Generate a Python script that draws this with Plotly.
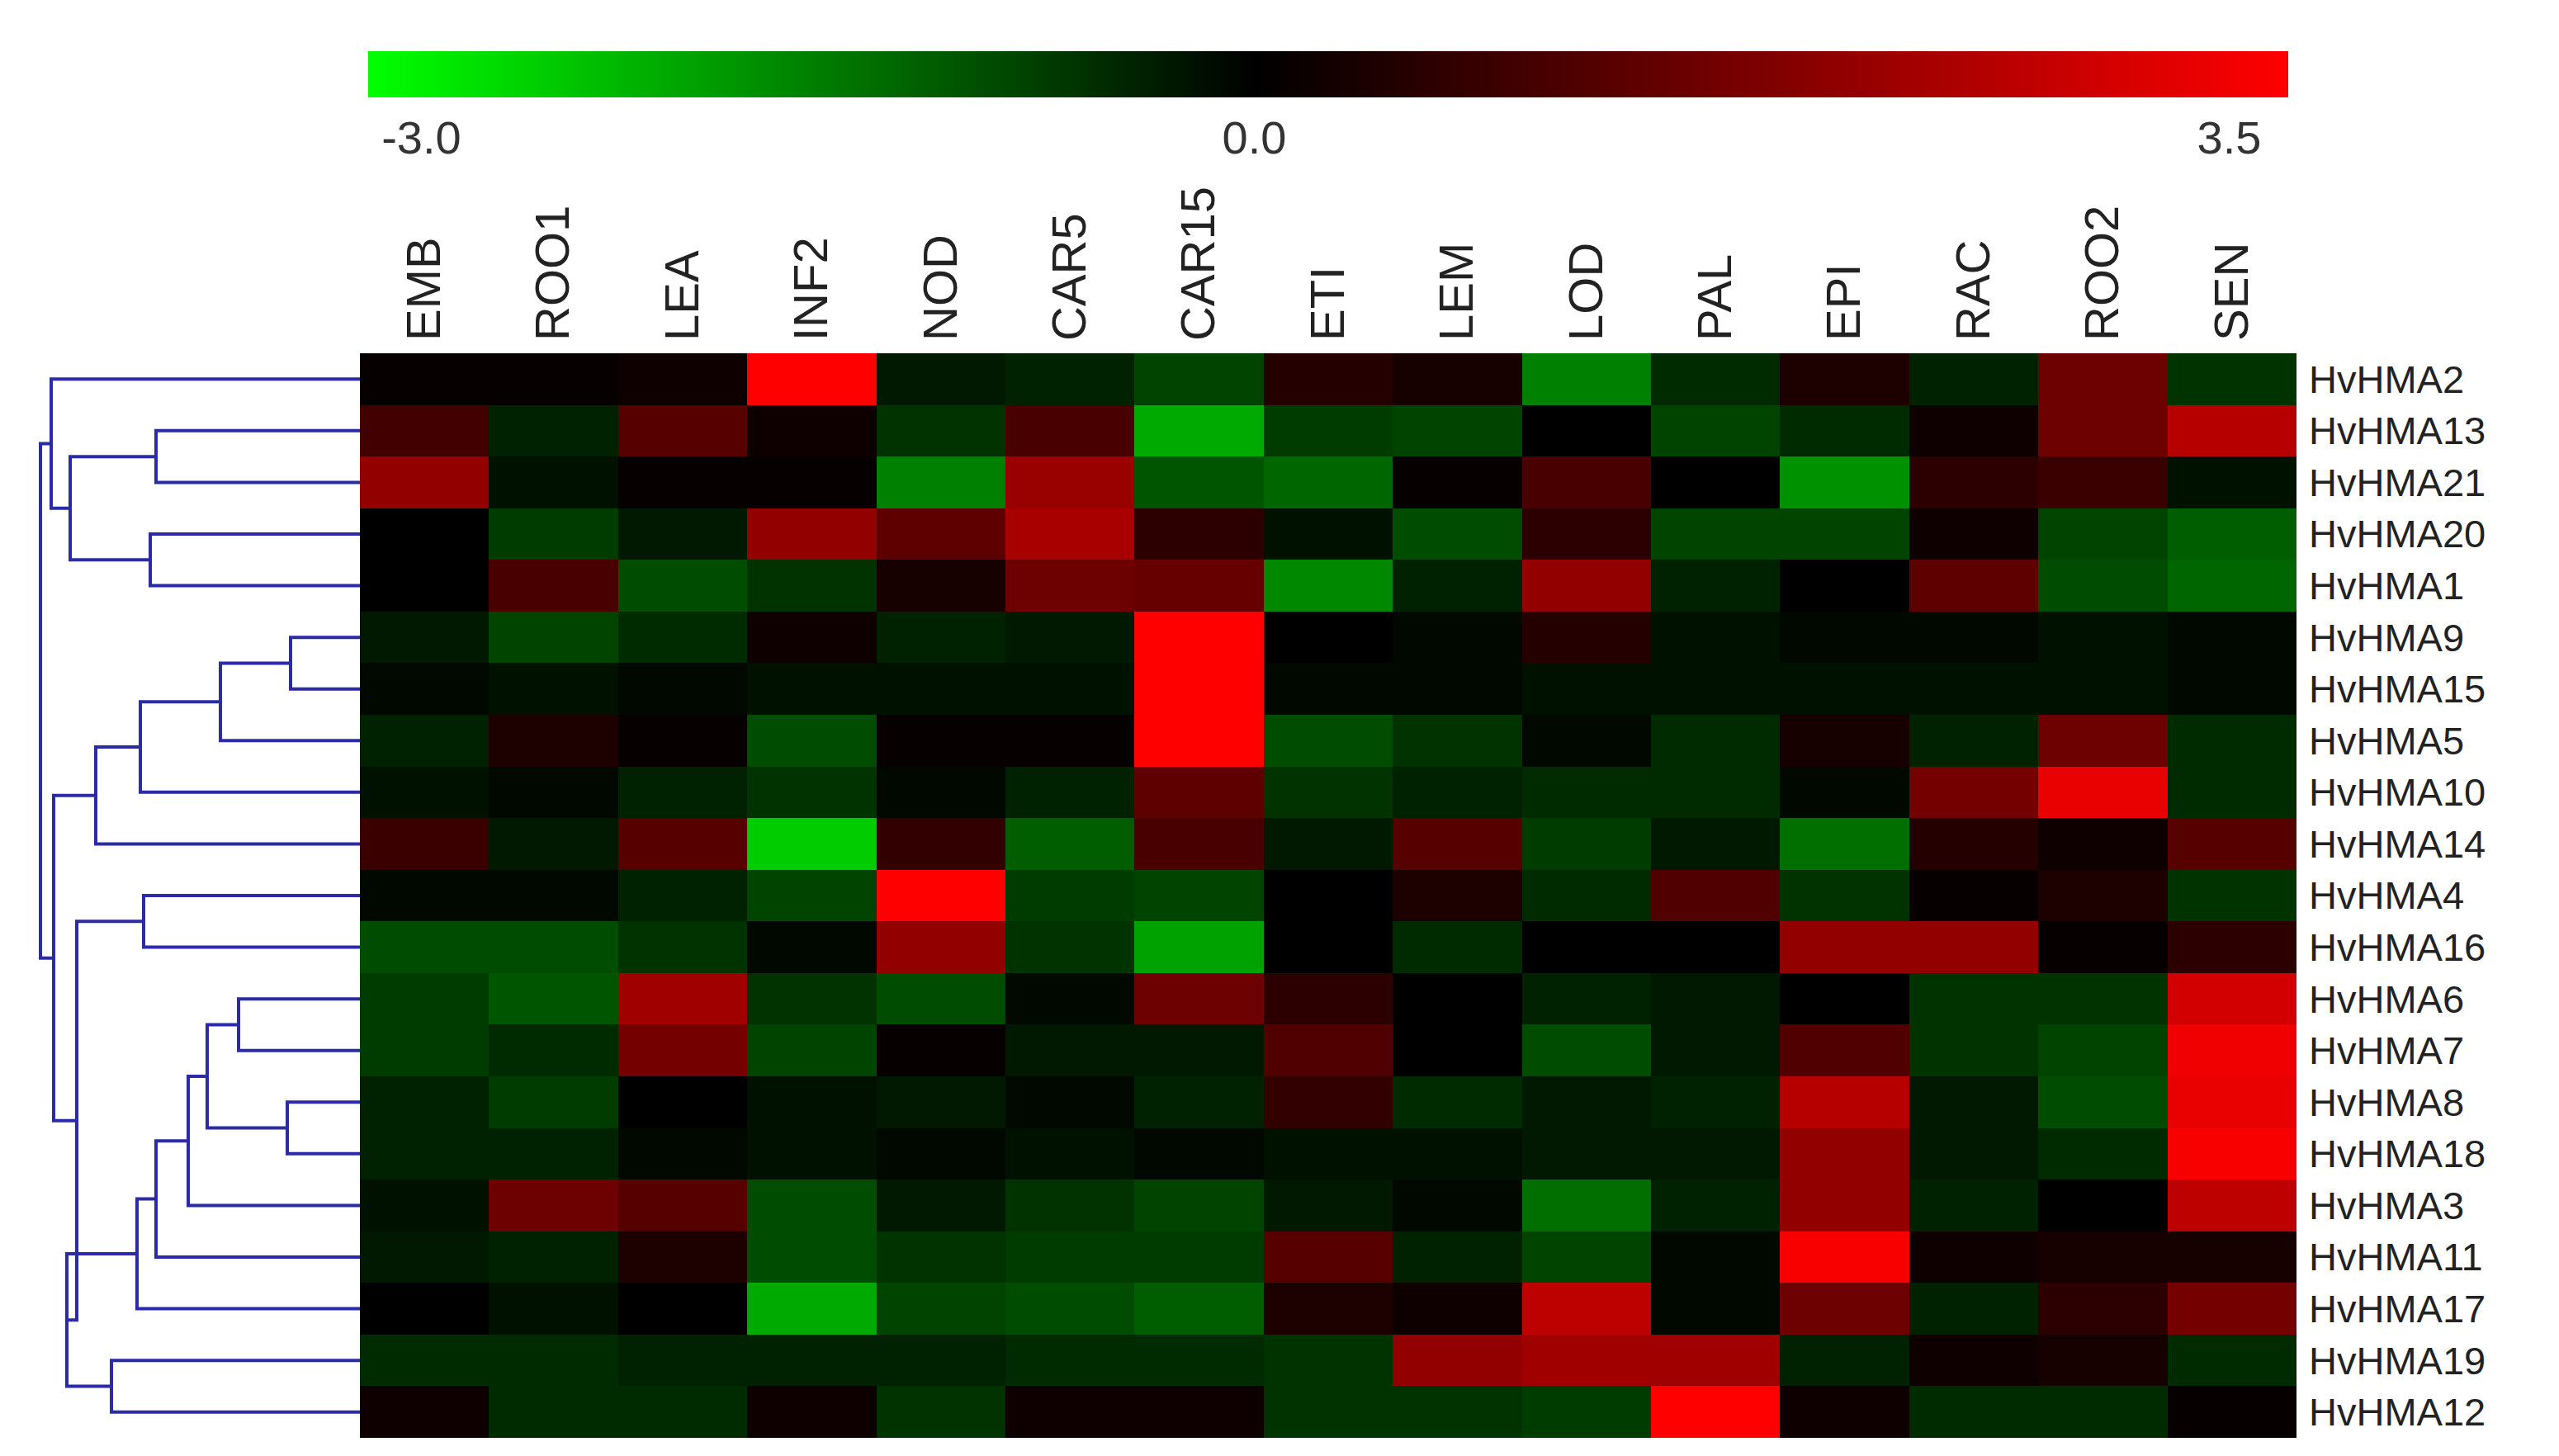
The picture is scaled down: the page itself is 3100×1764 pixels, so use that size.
import plotly.graph_objects as go

# tissues (columns) and genes (rows, in dendrogram order)
tissues = ['EMB', 'ROO1', 'LEA', 'INF2', 'NOD', 'CAR5', 'CAR15', 'ETI',
           'LEM', 'LOD', 'PAL', 'EPI', 'RAC', 'ROO2', 'SEN']
genes = ['HvHMA2', 'HvHMA13', 'HvHMA21', 'HvHMA20', 'HvHMA1', 'HvHMA9',
         'HvHMA15', 'HvHMA5', 'HvHMA10', 'HvHMA14', 'HvHMA4', 'HvHMA16',
         'HvHMA6', 'HvHMA7', 'HvHMA8', 'HvHMA18', 'HvHMA3', 'HvHMA11',
         'HvHMA17', 'HvHMA19', 'HvHMA12']

# log2 expression
expr = [
    [0.1, 0.1, 0.2, 3.5, -0.3, -0.4, -0.8, 0.5, 0.3, -1.5, -0.5, 0.4, -0.4, 1.5, -0.6],
    [0.9, -0.4, 1.2, 0.2, -0.6, 1.0, -2.0, -0.7, -0.8, 0.0, -0.8, -0.5, 0.2, 1.5, 2.5],
    [2.0, -0.2, 0.1, 0.1, -1.5, 2.1, -1.0, -1.2, 0.1, 1.0, 0.0, -1.7, 0.6, 0.8, -0.2],
    [0.0, -0.7, -0.3, 2.0, 1.3, 2.3, 0.6, -0.2, -0.9, 0.6, -0.8, -0.8, 0.2, -0.8, -1.1],
    [0.0, 1.0, -0.9, -0.6, 0.3, 1.5, 1.4, -1.6, -0.4, 2.0, -0.4, 0.0, 1.3, -0.9, -1.2],
    [-0.3, -0.8, -0.5, 0.2, -0.4, -0.3, 3.5, 0.0, -0.1, 0.5, -0.2, -0.1, -0.1, -0.2, -0.1],
    [-0.1, -0.2, -0.1, -0.2, -0.2, -0.2, 3.5, -0.1, -0.1, -0.2, -0.2, -0.2, -0.2, -0.2, -0.1],
    [-0.4, 0.4, 0.1, -0.9, 0.1, 0.1, 3.5, -0.9, -0.6, -0.1, -0.5, 0.3, -0.4, 1.5, -0.5],
    [-0.2, -0.1, -0.4, -0.6, -0.1, -0.4, 1.3, -0.6, -0.4, -0.5, -0.5, -0.1, 1.6, 3.2, -0.5],
    [0.8, -0.3, 1.2, -2.4, 0.7, -1.1, 1.0, -0.3, 1.2, -0.7, -0.3, -1.3, 0.5, 0.2, 1.2],
    [-0.1, -0.1, -0.4, -0.8, 3.5, -0.7, -0.8, 0.0, 0.4, -0.5, 1.1, -0.6, 0.1, 0.4, -0.6],
    [-0.9, -0.9, -0.6, -0.1, 2.0, -0.6, -1.9, 0.0, -0.5, 0.0, 0.0, 2.0, 2.0, 0.1, 0.6],
    [-0.7, -1.0, 2.2, -0.6, -0.9, -0.1, 1.5, 0.6, 0.0, -0.4, -0.3, 0.0, -0.6, -0.6, 2.9],
    [-0.7, -0.5, 1.6, -0.8, 0.1, -0.3, -0.3, 1.1, 0.0, -0.9, -0.3, 1.1, -0.6, -0.8, 3.3],
    [-0.4, -0.7, 0.0, -0.2, -0.3, -0.1, -0.4, 0.7, -0.5, -0.3, -0.4, 2.5, -0.3, -0.9, 3.2],
    [-0.4, -0.4, -0.1, -0.2, -0.1, -0.2, -0.1, -0.2, -0.2, -0.3, -0.3, 2.0, -0.3, -0.5, 3.4],
    [-0.2, 1.5, 1.2, -0.9, -0.3, -0.6, -0.8, -0.3, -0.1, -1.3, -0.4, 2.0, -0.4, 0.0, 2.6],
    [-0.3, -0.4, 0.4, -0.9, -0.6, -0.7, -0.7, 1.2, -0.4, -0.8, -0.1, 3.4, 0.2, 0.3, 0.3],
    [0.0, -0.2, 0.0, -2.0, -0.8, -0.9, -1.1, 0.4, 0.2, 2.6, -0.1, 1.5, -0.4, 0.6, 1.6],
    [-0.5, -0.5, -0.4, -0.4, -0.4, -0.5, -0.5, -0.6, 2.0, 2.2, 2.2, -0.4, 0.2, 0.3, -0.5],
    [0.2, -0.5, -0.5, 0.2, -0.6, 0.2, 0.2, -0.6, -0.6, -0.7, 3.5, 0.2, -0.5, -0.5, 0.1],
]

# dendrogram: nested tuples (left, right, height); leaves are row indices
top_group = (0, ((1, 2, 247), (3, 4, 254), 351), 374)
mid_group = ((((5, 6, 84), 7, 169), 8, 266), 9, 320)
low_group = ((10, 11, 262),
             (((((((12, 13, 147), (14, 15, 88), 185), 16, 208), 17, 247), 18, 270),
               (19, 20, 301), 355)),
             343)
tree = (top_group, (mid_group, low_group, 371), 387)

segs_x, segs_y = [], []


def walk(node):
    if isinstance(node, int):
        return node, 0
    left, right, h = node
    yl, hl = walk(left)
    yr, hr = walk(right)
    segs_x.extend([hl, h, h, hr, None])
    segs_y.extend([yl, yl, yr, yr, None])
    return (yl + yr) / 2, h


walk(tree)

W, H = 3100, 1764
hm_x0, hm_x1 = 428 / W, 2774 / W
hm_y0, hm_y1 = 1 - 1734 / H, 1 - 420 / H

fig = go.Figure()
fig.add_trace(go.Heatmap(
    z=expr, x=tissues, y=list(range(len(genes))),
    zmin=-3, zmax=3.5,
    colorscale=[[0, 'rgb(0,255,0)'], [3 / 6.5, 'rgb(0,0,0)'], [1, 'rgb(255,0,0)']],
    colorbar=dict(
        orientation='h', x=(hm_x0 + hm_x1) / 2, xanchor='center',
        len=hm_x1 - hm_x0, lenmode='fraction', thickness=56,
        y=1 - 44 / H, yanchor='top', outlinewidth=0,
        tickvals=[-2.82, 0, 3.3], ticktext=['-3.0', '0.0', '3.5'],
        ticks='', tickfont=dict(size=56, color='#333'),
    ),
    xaxis='x', yaxis='y',
))
fig.add_trace(go.Scatter(
    x=segs_x, y=segs_y, mode='lines',
    line=dict(color='#2b2ba8', width=4),
    xaxis='x2', yaxis='y', showlegend=False, hoverinfo='skip',
))

fig.update_layout(
    width=W, height=H,
    margin=dict(l=0, r=0, t=0, b=0),
    plot_bgcolor='white', paper_bgcolor='white',
    font=dict(family='Liberation Sans, Arial, sans-serif', size=47, color='#222'),
    xaxis=dict(domain=[hm_x0, hm_x1], side='top', tickangle=-90,
               tickfont=dict(size=58), ticklabelstandoff=14,
               showgrid=False, zeroline=False, ticks=''),
    yaxis=dict(domain=[hm_y0, hm_y1], side='right', autorange=False,
               range=[len(genes) - 0.5, -0.5],
               tickvals=list(range(len(genes))), ticktext=genes,
               showgrid=False, zeroline=False, ticks='', ticklabelstandoff=14),
    xaxis2=dict(domain=[0, 428 / W], range=[428, 0], visible=False,
                anchor='y'),
)

fig.write_html('out.html')
